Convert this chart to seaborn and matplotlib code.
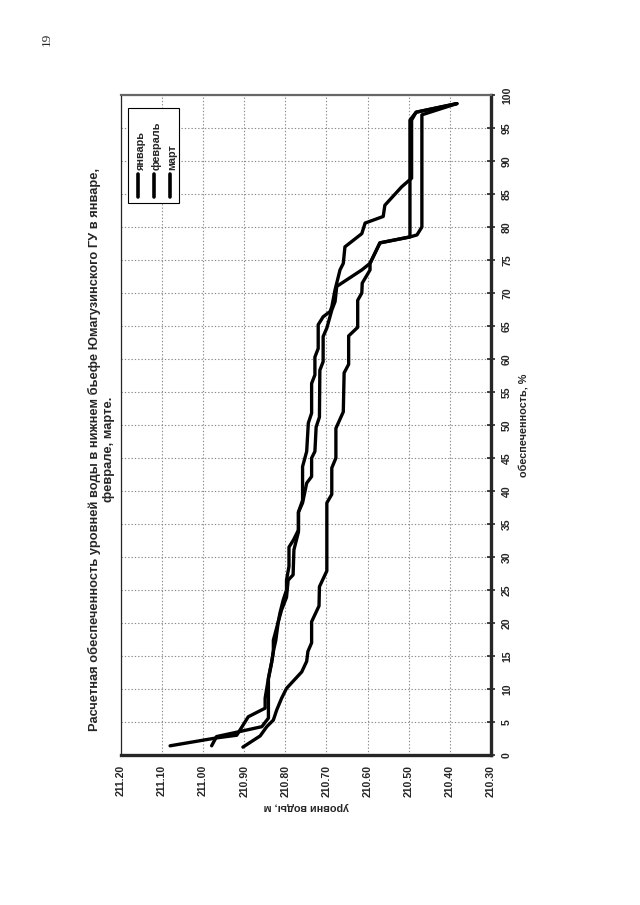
import matplotlib
matplotlib.use("Agg")
import matplotlib.pyplot as plt
import matplotlib.patches as mpatches
import numpy as np
import pandas as pd
import seaborn as sns

# ── Data (levels in m, exceedance in %) ─────────────────────
months = ["январь", "февраль", "март"]

jan_level = [211.08, 210.967, 210.918, 210.89, 210.849, 210.849, 210.841, 210.833,
             210.829, 210.829, 210.817, 210.813, 210.805, 210.797, 210.797, 210.791,
             210.791, 210.78, 210.768, 210.768, 210.758, 210.748, 210.736, 210.736,
             210.728, 210.725, 210.717, 210.716, 210.708, 210.708, 210.699, 210.687,
             210.679, 210.675, 210.614, 210.594, 210.57, 210.497, 210.497, 210.482,
             210.383]
jan_pct = [1.4, 2.6, 3.0, 5.8, 7.1, 8.6, 11.6, 14.1, 15.7, 17.4, 20.2, 21.5, 23.5,
           25.0, 26.5, 28.6, 31.5, 32.6, 34.1, 36.8, 38.2, 41.2, 42.2, 45.0, 46.0,
           49.7, 51.2, 58.3, 59.6, 63.4, 64.7, 67.4, 68.7, 71.0, 73.5, 74.5, 77.6,
           78.5, 96.2, 97.4, 98.7]

feb_level = [210.979, 210.967, 210.915, 210.857, 210.841, 210.841, 210.833, 210.829,
             210.823, 210.817, 210.809, 210.797, 210.793, 210.781, 210.779, 210.768,
             210.768, 210.758, 210.758, 210.748, 210.744, 210.736, 210.736, 210.728,
             210.728, 210.72, 210.72, 210.708, 210.691, 210.687, 210.679, 210.667,
             210.659, 210.655, 210.614, 210.606, 210.562, 210.558, 210.517, 210.493,
             210.493, 210.482, 210.383]
feb_pct = [1.4, 2.8, 3.5, 4.3, 5.6, 11.6, 14.1, 15.7, 17.4, 20.2, 22.0, 23.9, 26.5,
           27.3, 31.1, 33.8, 36.8, 38.6, 43.7, 46.0, 50.3, 51.8, 56.3, 57.6, 60.3,
           61.6, 65.2, 66.4, 67.2, 67.9, 70.5, 73.5, 74.5, 77.0, 79.0, 80.6, 81.6,
           83.3, 86.1, 87.4, 96.2, 97.4, 98.7]

mar_level = [210.903, 210.861, 210.845, 210.829, 210.821, 210.809, 210.797, 210.76,
             210.748, 210.745, 210.736, 210.736, 210.718, 210.717, 210.699, 210.699,
             210.687, 210.687, 210.677, 210.677, 210.659, 210.657, 210.646, 210.646,
             210.624, 210.624, 210.614, 210.613, 210.594, 210.594, 210.57, 210.497,
             210.48, 210.468, 210.468, 210.383]
mar_pct = [1.2, 2.9, 4.3, 5.3, 6.8, 8.6, 10.1, 12.6, 14.2, 15.7, 17.0, 20.2, 22.6,
           25.5, 27.9, 38.2, 39.5, 43.5, 45.0, 49.5, 52.0, 57.9, 59.2, 63.5, 64.8,
           68.9, 70.0, 71.5, 73.5, 74.5, 77.6, 78.5, 78.8, 80.0, 97.0, 98.7]

level_ticks = [211.20, 211.10, 211.00, 210.90, 210.80, 210.70, 210.60, 210.50, 210.40, 210.30]
pct_ticks = list(range(0, 101, 5))

title = ("Расчетная обеспеченность уровней воды в нижнем бьефе Юмагузинского ГУ в январе,\n"
         "феврале, марте.")

# ── Style ───────────────────────────────────────────────────
sns.set_style("white")
plt.rcParams["font.family"] = ["Liberation Sans", "DejaVu Sans"]
plt.rcParams["font.weight"] = "bold"

fig = plt.figure(figsize=(6.4, 9.05), dpi=100)
ax = fig.add_axes([0.1886, 0.1657, 0.7672 - 0.1886, 0.895 - 0.1657])

series = [(jan_level, jan_pct), (feb_level, feb_pct), (mar_level, mar_pct)]
for (lvl, pct), name in zip(series, months):
    df = pd.DataFrame({"level": lvl, "pct": pct})
    sns.lineplot(data=df, x="level", y="pct", sort=False, estimator=None,
                 color="black", linewidth=2.4, ax=ax, zorder=3,
                 solid_joinstyle="round", solid_capstyle="round")

ax.set_xlim(211.20, 210.30)
ax.set_ylim(0, 100)
ax.set_xticks(level_ticks)
ax.set_xticklabels([f"{v:.2f}" for v in level_ticks], rotation=90, fontsize=7.6, fontweight="bold")
ax.set_yticks(pct_ticks)
ax.yaxis.tick_right()
ax.set_yticklabels([str(v) for v in pct_ticks], rotation=90, fontsize=7.6,
                   fontweight="bold", va="center")
ax.tick_params(axis="x", direction="out", length=4, width=1.2, pad=3)
ax.tick_params(axis="y", direction="inout", length=6, width=1.2, pad=5)

ax.grid(True, linestyle=(0, (1.2, 1.8)), color="#8a8a8a", linewidth=0.8)
ax.set_axisbelow(True)

ax.spines["bottom"].set_linewidth(2.4)
ax.spines["right"].set_linewidth(2.4)
ax.spines["left"].set_linewidth(0.9)
ax.spines["top"].set_linewidth(1.6)
ax.spines["top"].set_color("#666666")
for s in ax.spines.values():
    s.set_visible(True)

ax.set_xlabel("уровни воды, м", rotation=180, fontsize=7.8, fontweight="bold", labelpad=4)
ax.yaxis.set_label_position("right")
ax.set_ylabel("обеспеченность, %", rotation=90, fontsize=7.8, fontweight="bold", labelpad=5)

# ── Legend (rotated, drawn by hand) ─────────────────────────
box = mpatches.Rectangle((0.0197, 0.836), 0.137, 0.144, transform=ax.transAxes,
                         facecolor="white", edgecolor="black", linewidth=0.8, zorder=5)
ax.add_patch(box)
for i, name in enumerate(months):
    xc = 0.048 + i * 0.043
    ax.plot([xc, xc], [0.846, 0.881], transform=ax.transAxes, color="black",
            linewidth=2.6, zorder=6, solid_capstyle="round")
    ax.text(xc + 0.006, 0.887, name, transform=ax.transAxes, rotation=90,
            ha="center", va="bottom", fontsize=7.8, fontweight="bold", zorder=6)

# ── Title and page number ───────────────────────────────────
fig.text(0.158, 0.503, title, rotation=90, ha="center", va="center",
         multialignment="center", fontsize=9.3, fontweight="bold", linespacing=1.2)
fig.text(0.073, 0.956, "19", rotation=90, ha="center", va="center",
         fontsize=9.5, fontweight="normal", family=["Liberation Serif", "DejaVu Serif"])

fig.savefig("out.png", dpi=100)
